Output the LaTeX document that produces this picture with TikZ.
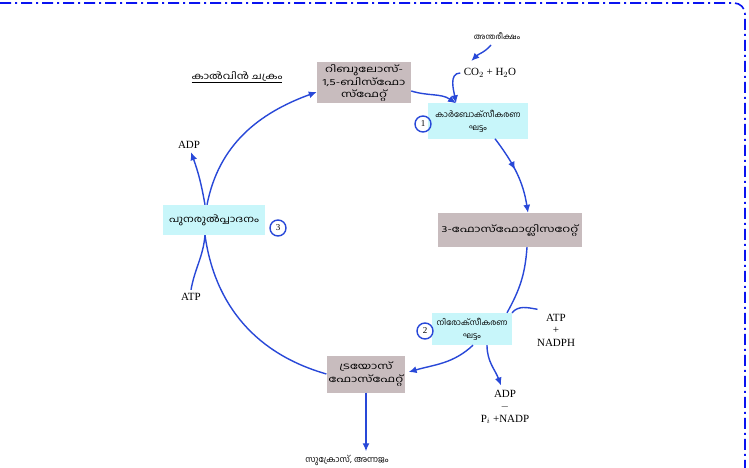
\documentclass[tikz,border=0pt]{standalone}
\usepackage{fontspec}
\setmainfont{Liberation Serif}
\newfontfamily\mlfont[Script=Malayalam]{Hind Kochi}
\newfontfamily\mlwide[Script=Malayalam,FakeStretch=1.4]{Hind Kochi}
\newfontfamily\mlmid[Script=Malayalam,FakeStretch=1.25]{Hind Kochi}
\usetikzlibrary{arrows.meta,calc,decorations.markings}
\definecolor{flowblue}{RGB}{40,72,216}
\definecolor{frameblue}{RGB}{10,20,240}
\definecolor{stepgrey}{RGB}{200,188,190}
\definecolor{stepcyan}{RGB}{200,246,250}
\tikzset{
  compound/.style={fill=stepgrey, align=center, inner sep=2pt, font=\mlwide\fontsize{9}{12.5}\selectfont},
  phase/.style={fill=stepcyan, align=center, inner sep=2pt, font=\mlfont\fontsize{8}{13}\selectfont},
  stepnum/.style={circle, draw=flowblue, line width=1.4pt, minimum size=16pt, inner sep=0pt, font=\fontsize{9}{10}\selectfont},
  chem/.style={align=center, font=\fontsize{11}{12.5}\selectfont},
  mltext/.style={font=\mlfont\fontsize{8}{10}\selectfont},
  link/.style={draw=flowblue, line width=1.4pt},
  flow/.style={link, -{Latex[length=8pt,width=7pt]}},
  midflow/.style={link, postaction={decorate}, decoration={markings, mark=at position 0.45 with {\arrow{Latex[length=8pt,width=7pt]}}}},
  frame/.style={draw=frameblue, line width=1.6pt, dash pattern=on 11pt off 4pt on 2pt off 4pt},
}
\begin{document}
\begin{tikzpicture}[x=1pt,y=-1pt]
\useasboundingbox (0,0) rectangle (749,468);
\fill[white] (0,0) rectangle (749,468);

% outer frame, top and right sides
\draw[frame] (0,3) -- (734,3) to[out=0,in=90] (745,14) -- (745,472);

% compounds and phases
\node[compound, minimum width=94pt, minimum height=41pt] (rubp) at (364,83) {റിബുലോസ്-\\1,5-ബിസ്ഫോ\\സ്ഫേറ്റ്};
\node[phase, minimum width=100pt, minimum height=35pt] (carbox) at (478,121) {കാർബോക്സീകരണ\\ഘട്ടം};
\node[compound, minimum width=144pt, minimum height=34pt] (pga) at (510,230) {3-ഫോസ്ഫോഗ്ലിസറേറ്റ്};
\node[phase, minimum width=80pt, minimum height=32pt] (reduc) at (472,329) {നിരോക്സീകരണ\\ഘട്ടം};
\node[compound, minimum width=76pt, minimum height=37pt] (triose) at (366,374) {ട്രയോസ്\\ഫോസ്ഫേറ്റ്};
\node[phase, minimum width=102pt, minimum height=30pt, font=\mlmid\fontsize{9}{12}\selectfont] (regen) at (214,220) {പുനരുൽപ്പാദനം};

\node[stepnum] (n1) at (423,124) {1};
\node[stepnum] (n2) at (425,331) {2};
\node[stepnum] (n3) at (278,228) {3};

% labels
\node[mltext, font=\mlmid\fontsize{9}{10}\selectfont] (title) at (237,77) {\underline{കാൽവിൻ ചക്രം}};
\node[mltext, font=\mlfont\fontsize{7.5}{9}\selectfont] (atmos) at (497,36) {അന്തരീക്ഷം};
\node[chem] (co2) at (490,73) {CO$_2$ + H$_2$O};
\node[chem] (atpin) at (556,330) {ATP\\+\\NADPH};
\node[chem] (adpout) at (505,407) {ADP\\$-$\\P$_i$ +NADP};
\node[mltext, font=\mlfont\fontsize{8.5}{10}\selectfont] (sugar) at (347,460) {സുക്രോസ്, അന്നജം};
\node[chem] (adp) at (189,145) {ADP};
\node[chem] (atp) at (191,297) {ATP};

% cycle connectors
\draw[flow] ($(rubp.east)+(0,8)$) to[out=-17,in=146] ($(carbox.north)+(-22,0)$);
\draw[flow] ($(atmos.south)+(-6,2)$) to[out=-130,in=45] ($(co2.north west)+(11,-4)$);
\draw[flow] (co2.west) to[out=180,in=100] ($(carbox.north)+(-22,0)$);
\draw[midflow, -{Latex[length=8pt,width=7pt]}] ($(carbox.south)+(17,0)$) to[out=-53,in=99] ($(pga.north)+(18,0)$);
\draw[link] ($(pga.south)+(17,0)$) to[out=-94,in=61] ($(reduc.north)+(35,0)$);
\draw[link] ($(atpin.north west)+(4,-1)$) to[out=170,in=50] ($(reduc.north)+(40,0)$);
\draw[flow] ($(reduc.south)+(1,0)$) to[out=-137,in=16] ($(triose.east)+(3,-2)$);
\draw[flow] ($(reduc.south)+(15,0)$) to[out=-90,in=110] ($(adpout.north)+(-4,-1)$);
\draw[link] (triose.west) to[out=164,in=-82] ($(regen.south)+(-9,0)$);
\draw[link] (atp.north) to[out=80,in=-95] ($(regen.south)+(-9,0)$);
\draw[flow] ($(regen.north)+(-9,0)$) to[out=100,in=-70] ($(adp.south)+(2,0)$);
\draw[flow] ($(regen.north)+(-7,0)$) to[out=79,in=200] ($(rubp.west)+(0,9)$);
\draw[flow] (triose.south) -- (triose.south |- sugar.north);
\end{tikzpicture}
\end{document}
